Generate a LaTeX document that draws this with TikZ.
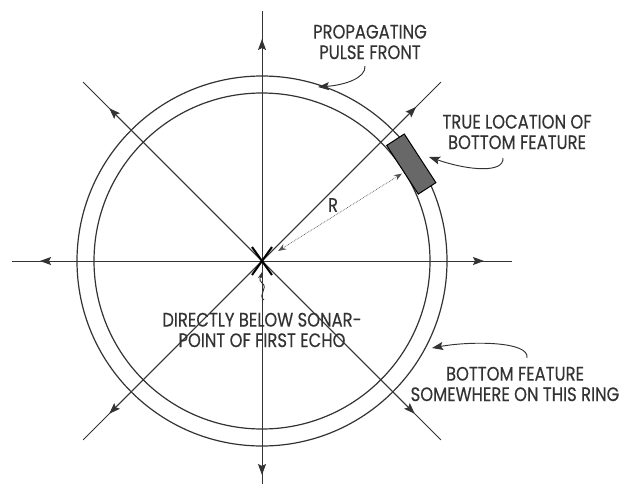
\documentclass[tikz,border=0pt]{standalone}
\usepackage{fontspec}
\setmainfont{Poppins}[FakeStretch=0.84,FakeBold=0.35]
\usetikzlibrary{arrows.meta,calc}
\definecolor{ink}{HTML}{333333}
\definecolor{feat}{HTML}{686868}
\begin{document}
\begin{tikzpicture}[x=1pt,y=1pt,
  ln/.style={draw=ink,line width=0.95pt},
  tip/.style={-{Stealth[length=11pt,width=8pt,inset=2pt]}},
  lbl/.style={text=ink,align=center,inner sep=0pt,font=\fontsize{19.5}{20.5}\selectfont},
  ring/.style={draw=ink,line width=1.2pt}]
\useasboundingbox (0,0) rectangle (628,483);
\clip (0,0) rectangle (628,483);
\coordinate (C) at (262,222);
% axes
\foreach \ang/\e/\a [count=\i] in {90/250/222, 270/250/214, 180/250/222, 0/250/222, 45/253/218, 135/253/216, 225/253/216, 315/253/216}{
  \coordinate (E\i) at ($(C)+(\ang:\e)$);
  \coordinate (A\i) at ($(C)+(\ang:\a)$);
  \draw[ln] (C) -- (E\i);
  \draw[ln,tip] (C) -- (A\i);
}
% rings
\draw[ring] (C) circle[radius=185];
\draw[ring] (C) circle[radius=168];
% bottom feature
\node[draw=black,fill=feat,line width=1pt,minimum width=58pt,minimum height=21pt,inner sep=0pt,rotate=-57] (feat) at ($(C)+(33:178)$) {};
% R
\coordinate (R0) at ($(C)+(32:19)$);
\coordinate (R1) at ($(C)+(32:165)$);
\draw[draw=ink!85,line width=0.7pt,densely dotted,{Stealth[length=8pt,width=6pt]}-{Stealth[length=8pt,width=6pt]}] (R0) -- (R1);
\node[lbl] (rl) at (333,278) {R};
% X
\draw[draw=black,line width=2pt] ($(C)+(-10,14)$) -- ($(C)+(10,-14)$);
\draw[draw=black,line width=2pt] ($(C)+(-10,-14)$) -- ($(C)+(10,14)$);
% labels
\node[lbl] (prop) at (370,441) {PROPAGATING\\PULSE FRONT};
\node[lbl] (true) at (517,351) {TRUE LOCATION OF\\BOTTOM FEATURE};
\node[lbl] (some) at (515,99) {BOTTOM FEATURE\\SOMEWHERE ON THIS RING};
\node[lbl] (dir) at (262,153) {DIRECTLY BELOW SONAR-\\POINT OF FIRST ECHO};
% leaders
\coordinate (p0) at (365,417);
\coordinate (p1) at (318,396);
\draw[ln,tip] (p0) .. controls (366,405) and (345,398) .. (p1);
\coordinate (t0) at (503,325);
\coordinate (t1) at (429,326);
\draw[ln,tip] (t0) .. controls (504,310) and (470,312) .. (t1);
\coordinate (s0) at (527,125);
\coordinate (s1) at (432,135);
\draw[ln,tip] (s0) .. controls (530,142) and (470,142) .. (s1);
\coordinate (q0) at (264,183);
\coordinate (q1) at (262,211);
\draw[ln,line width=0.9pt,-{Stealth[length=7pt,width=5pt]}] (q0) .. controls (257,188) and (269,195) .. (262,200) .. controls (258,203) and (261,207) .. (q1);
\end{tikzpicture}
\end{document}
